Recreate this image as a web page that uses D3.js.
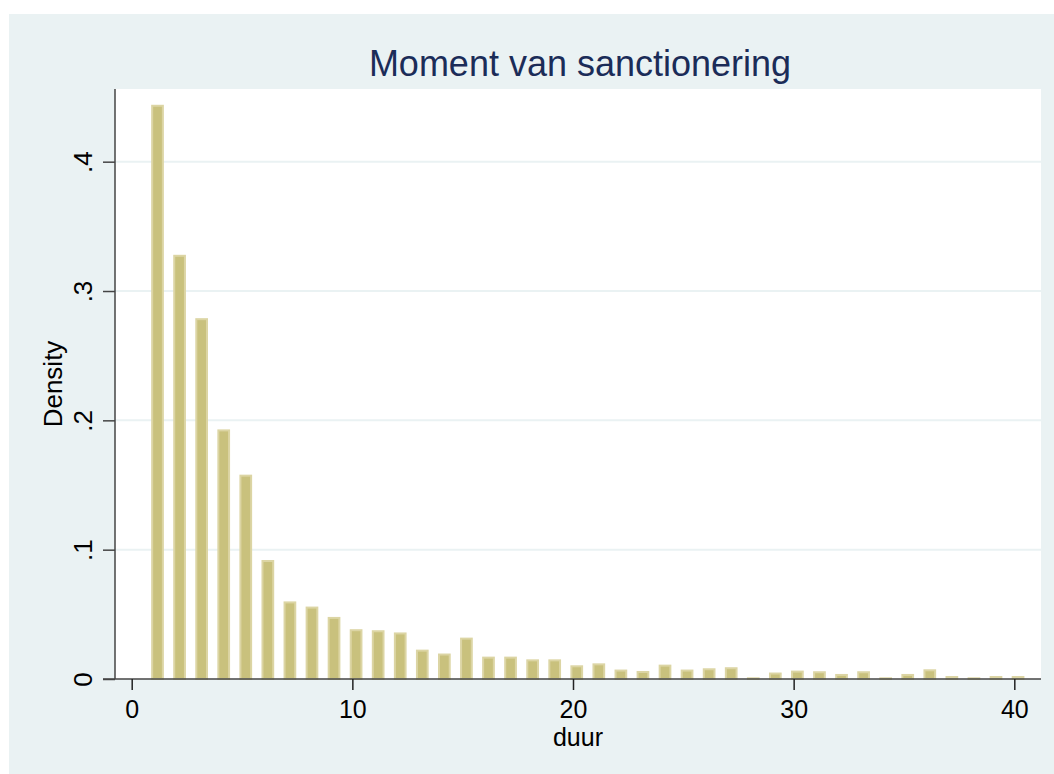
<!DOCTYPE html>
<html>
<head>
<meta charset="utf-8">
<script src="https://cdn.jsdelivr.net/npm/d3@7"></script>
<style>
  body { margin: 0; background: #fff; }
  text { font-family: "Liberation Sans", Arial, sans-serif; }
</style>
</head>
<body>
<div id="chart"></div>
<script>
// duur (bin) and density per bin
const duur = [1, 2, 3, 4, 5, 6, 7, 8, 9, 10,
  11, 12, 13, 14, 15, 16, 17, 18, 19, 20,
  21, 22, 23, 24, 25, 26, 27, 28, 29, 30,
  31, 32, 33, 34, 35, 36, 37, 38, 39, 40];
const density = [0.444, 0.328, 0.279, 0.193, 0.158, 0.092, 0.060, 0.056, 0.048, 0.0385,
  0.0377, 0.036, 0.0227, 0.0197, 0.032, 0.0173, 0.0173, 0.0152, 0.0152, 0.0106,
  0.0121, 0.0073, 0.0062, 0.0111, 0.0073, 0.0083, 0.0091, 0.0013, 0.005, 0.0065,
  0.006, 0.0039, 0.006, 0.0013, 0.0039, 0.0075, 0.0023, 0.0013, 0.0023, 0.0023];
const xTicks = [0, 10, 20, 30, 40];
const yTicks = [0, 0.1, 0.2, 0.3, 0.4];

var width = 1054;
var height = 774;
var plot = { left: 115, top: 89, right: 1041, bottom: 679 };
var pw = plot.right - plot.left;
var ph = plot.bottom - plot.top;
var binShift = 0.17; // bars sit a little right of the integer
var barW = 0.576;

var svg = d3.select("#chart").append("svg")
  .attr("width", width)
  .attr("height", height);

// outer background
svg.append("rect")
  .attr("x", 9).attr("y", 14)
  .attr("width", width - 9).attr("height", height - 14)
  .attr("fill", "#eaf2f3");

svg.append("text")
  .text("Moment van sanctionering")
  .attr("x", 580).attr("y", 76)
  .attr("text-anchor", "middle")
  .attr("font-size", "36px")
  .attr("fill", "#1b2c58");

var g = svg.append("g")
  .attr("transform", `translate(${plot.left},${plot.top})`);

g.append("rect")
  .attr("width", pw).attr("height", ph)
  .attr("fill", "#fff");

var x = d3.scaleLinear().domain([-0.757, 41.21]).range([0, pw]);
var y = d3.scaleLinear().domain([0, 0.4562]).range([ph, 0]);

// grid lines
g.selectAll(".grid")
  .data(yTicks.filter(d => d > 0))
  .enter()
  .append("line")
  .attr("x1", 0).attr("x2", pw)
  .attr("y1", d => y(d)).attr("y2", d => y(d))
  .attr("stroke", "#eaf2f3")
  .attr("stroke-width", 2);

// bars
var bw = x(barW) - x(0);
g.selectAll(".bar")
  .data(duur)
  .enter()
  .append("rect")
  .attr("x", (d, i) => x(d + binShift) - bw / 2 + 1)
  .attr("width", bw - 2)
  .attr("y", (d, i) => y(density[i]) + 1)
  .attr("height", (d, i) => Math.max(0, y(0) - y(density[i]) - 1))
  .attr("fill", "#c9c17d")
  .attr("stroke", "#dcd5a4")
  .attr("stroke-width", 2);

var fmt = d => d === 0 ? "0" : d3.format(".1f")(d).replace(/^0/, "");

var yAxis = g.append("g")
  .call(d3.axisLeft(y).tickValues(yTicks).tickSize(12).tickSizeOuter(0).tickFormat(fmt));
yAxis.select(".domain").attr("stroke", "#444").attr("stroke-width", 1.5)
  .attr("d", `M0,0V${ph}`);
yAxis.selectAll(".tick line").attr("stroke", "#444").attr("stroke-width", 1.5);
yAxis.selectAll(".tick text")
  .attr("transform", "rotate(-90)")
  .attr("x", 0).attr("y", -23).attr("dy", 0)
  .attr("text-anchor", "middle")
  .attr("font-size", "26px")
  .attr("font-family", "Liberation Sans, Arial, sans-serif")
  .attr("fill", "#000");

var xAxis = g.append("g")
  .attr("transform", `translate(0,${ph})`)
  .call(d3.axisBottom(x).tickValues(xTicks).tickSize(11).tickSizeOuter(0));
xAxis.select(".domain").attr("stroke", "#444").attr("stroke-width", 1.5)
  .attr("d", `M-12,0H${pw}`);
xAxis.selectAll(".tick line").attr("stroke", "#222").attr("stroke-width", 1.5);
xAxis.selectAll(".tick text")
  .attr("y", 39).attr("dy", 0)
  .attr("font-size", "25px")
  .attr("font-family", "Liberation Sans, Arial, sans-serif")
  .attr("fill", "#000");

svg.append("text")
  .text("duur")
  .attr("x", plot.left + pw / 2).attr("y", 746)
  .attr("text-anchor", "middle")
  .attr("font-size", "25px")
  .attr("fill", "#000");

svg.append("text")
  .text("Density")
  .attr("transform", `translate(62,${plot.top + ph / 2}) rotate(-90)`)
  .attr("text-anchor", "middle")
  .attr("font-size", "26px")
  .attr("fill", "#000");
</script>
</body>
</html>
